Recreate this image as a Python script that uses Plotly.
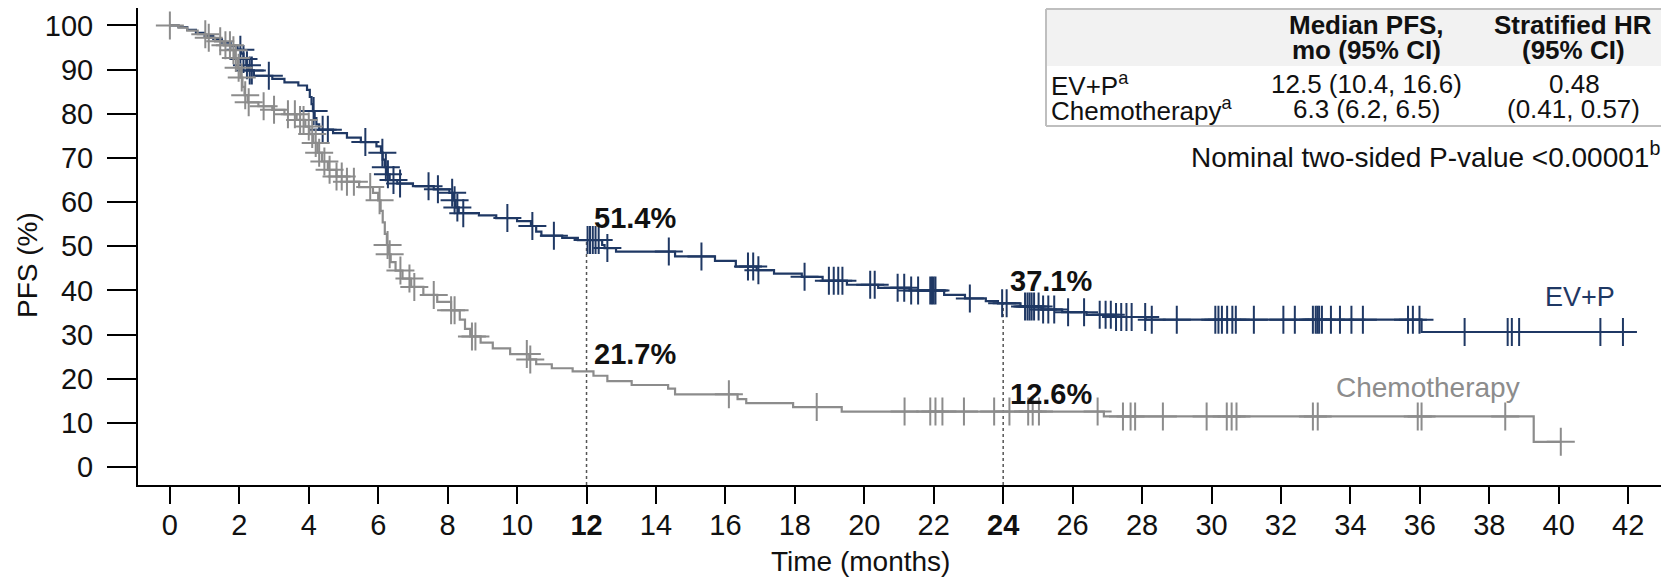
import numpy as np
import plotly.graph_objects as go

W, H = 1661, 582
ML, MR, MT, MB = 138, 0, 8, 97

NAVY = "#1F3864"
GRAY = "#8C8C8C"
FONT = "Arial, Liberation Sans, sans-serif"

# Kaplan-Meier steps: time of each drop (months) and PFS (%) after it
evp_event_t = [0.25, 0.5, 0.75, 1.0, 1.25, 1.5, 1.75, 1.95, 2.05, 2.12, 2.2, 2.28, 2.42,
               2.95, 3.3, 3.7, 3.95, 4.03, 4.08, 4.12, 4.17, 4.22, 4.3, 4.7, 5.1, 5.5,
               5.95, 6.08, 6.13, 6.19, 6.25, 6.33, 6.55, 7.0, 7.6, 8.05, 8.17, 8.23, 8.32,
               8.9, 9.4, 10.0, 10.4, 10.55, 10.7, 11.3, 11.75, 12.45, 12.52, 12.85, 14.55,
               15.7, 16.3, 16.9, 17.4, 18.2, 18.8, 19.5, 20.4, 21.3, 22.3, 22.9, 23.5,
               23.85, 24.5, 25.1, 25.7, 26.4, 27.2, 28.1, 36.05]
evp_surv = [99.6, 99.0, 98.3, 97.6, 96.9, 96.1, 95.3, 94.5, 93.6, 92.4, 91.0, 89.8, 88.6,
            87.9, 87.1, 86.4, 85.4, 83.8, 82.2, 80.6, 79.0, 77.6, 76.4, 75.6, 74.6, 73.6,
            72.6, 71.2, 69.6, 67.9, 66.3, 65.0, 64.2, 63.6, 62.9, 62.1, 60.4, 58.8, 57.5,
            57.0, 56.4, 55.7, 54.6, 53.3, 52.4, 51.9, 51.4, 50.3, 49.6, 48.8, 47.7,
            46.7, 45.4, 44.6, 43.8, 43.1, 42.2, 41.3, 40.6, 40.0, 39.0, 38.2, 37.6,
            37.1, 36.4, 35.7, 35.1, 34.5, 34.0, 33.4, 30.6]
evp_cens = [2.03, 2.12, 2.22, 2.3, 2.36, 2.85, 4.14, 4.4, 4.55, 5.63, 6.12, 6.22, 6.28,
            6.44, 6.63, 7.45, 7.72, 8.13, 8.2, 8.28, 8.45, 9.72, 10.44, 11.06, 12.03,
            12.1, 12.18, 12.26, 12.35, 12.6, 14.37, 15.31, 16.65, 16.8, 16.95, 18.28,
            18.98, 19.12, 19.25, 19.37, 20.17, 20.3, 20.96, 21.15, 21.35, 21.55, 21.9,
            21.95, 22.0, 22.05, 23.04, 23.97, 24.1, 24.63, 24.7, 24.76, 24.82, 24.89,
            25.02, 25.15, 25.3, 25.47, 25.87, 26.33, 26.78, 26.95, 27.1, 27.25, 27.4,
            27.55, 27.7, 28.09, 28.28, 29.0, 30.11, 30.2, 30.3, 30.45, 30.6, 30.7, 31.22,
            32.07, 32.4, 32.92, 33.0, 33.05, 33.1, 33.18, 33.44, 33.7, 34.03, 34.36,
            35.66, 35.8, 35.99, 37.29, 38.53, 38.65, 38.86, 41.2, 41.85]

chemo_event_t = [0.25, 0.5, 0.8, 1.05, 1.3, 1.55, 1.75, 1.88, 1.96, 2.03, 2.09, 2.15, 2.24,
                 2.55, 2.95, 3.3, 3.65, 3.9, 4.02, 4.13, 4.25, 4.38, 4.55, 4.8, 5.1, 5.45,
                 5.85, 6.0, 6.07, 6.13, 6.19, 6.25, 6.3, 6.36, 6.5, 6.7, 6.95, 7.3, 7.7,
                 8.1, 8.35, 8.5, 8.65, 8.95, 9.3, 9.8, 10.35, 10.55, 11.0, 11.6, 12.2,
                 12.6, 13.3, 14.35, 14.55, 16.35, 16.6, 17.95, 19.35, 26.9, 39.28]
chemo_surv = [99.5, 98.8, 98.0, 97.2, 96.4, 95.5, 94.4, 92.6, 90.4, 88.2, 86.1, 84.2, 82.6,
              81.7, 80.9, 79.9, 78.6, 77.1, 75.4, 73.4, 71.2, 69.2, 67.3, 65.8, 64.6, 63.4,
              62.1, 60.4, 58.0, 55.4, 52.8, 50.3, 48.2, 46.4, 44.5, 42.7, 40.8, 39.0, 37.4,
              35.5, 33.4, 31.3, 29.6, 28.2, 26.9, 25.6, 24.4, 23.3, 22.4, 21.7, 20.7,
              19.5, 18.6, 17.8, 16.5, 15.4, 14.5, 13.6, 12.6, 11.5, 5.75]
chemo_cens = [0.0, 1.02, 1.12, 1.45, 1.6, 1.73, 1.83, 1.9, 1.98, 2.07, 2.17, 2.27, 2.7, 3.0,
              3.4, 3.6, 3.75, 3.85, 4.0, 4.1, 4.2, 4.3, 4.45, 4.6, 4.8, 4.95, 5.1, 5.3,
              5.77, 6.04, 6.27, 6.33, 6.64, 6.9, 7.04, 7.6, 8.1, 8.2, 8.7, 8.8, 10.28,
              10.38, 16.1, 18.63, 21.16, 21.9, 22.05, 22.25, 22.87, 23.74, 24.18, 24.72,
              24.85, 25.03, 26.72, 27.45, 27.67, 27.8, 28.6, 29.86, 30.44, 30.58, 30.72,
              32.92, 33.06, 35.94, 36.05, 38.46, 40.06]

# Landmark estimates at 12 and 24 months
landmark_t = [12, 24]
landmark_evp = [51.4, 37.1]
landmark_chemo = [21.7, 12.6]

x_ticks = list(range(0, 43, 2))
x_ticktext = [f"<b>{v}</b>" if v in landmark_t else str(v) for v in x_ticks]
y_ticks = list(range(0, 101, 10))

X_RANGE = [-0.918, 42.946]
Y_RANGE = [-4.03, 103.94]

TICK_FONT = dict(family=FONT, size=29, color="#111111")


def km_path(t, s, cens):
    end = max(cens[-1], t[-1])
    return [0.0] + list(t) + [end], [100.0] + list(s) + [s[-1]]


def km_at(t, s, times):
    levels = np.concatenate([[100.0], np.asarray(s, float)])
    return levels[np.searchsorted(np.asarray(t, float), np.asarray(times, float), side="right")]


def px(xp):
    return (xp - ML) / (W - ML - MR)


def py(yp):
    return (H - MB - yp) / (H - MT - MB)


fig = go.Figure()

# dotted landmark drop lines
for t, v in zip(landmark_t, landmark_evp):
    fig.add_trace(go.Scatter(x=[t, t], y=[Y_RANGE[0], v], mode="lines",
                             line=dict(color="#555555", width=1.5, dash="dot"),
                             hoverinfo="skip", showlegend=False))

for name, t, s, c, col in [("EV+P", evp_event_t, evp_surv, evp_cens, NAVY),
                           ("Chemotherapy", chemo_event_t, chemo_surv, chemo_cens, GRAY)]:
    xs, ys = km_path(t, s, c)
    fig.add_trace(go.Scatter(x=xs, y=ys, mode="lines", line=dict(color=col, width=2.2, shape="hv"),
                             name=name, showlegend=False))
    fig.add_trace(go.Scatter(x=c, y=km_at(t, s, c), mode="markers",
                             marker=dict(symbol="cross-thin", size=20, line=dict(color=col, width=2)),
                             name=name + " censored", showlegend=False))

annotations = []
for t, v1, v2 in zip(landmark_t, landmark_evp, landmark_chemo):
    for v, off in [(v1, 5.0), (v2, 4.0)]:
        annotations.append(dict(x=t, y=v + off, xref="x", yref="y", text=f"<b>{v}%</b>",
                                showarrow=False, xanchor="left", yanchor="middle", xshift=5,
                                font=dict(family=FONT, size=29, color="#111111")))

annotations += [
    dict(x=40.6, y=38.5, xref="x", yref="y", text="EV+P", showarrow=False,
         xanchor="center", yanchor="middle", font=dict(family=FONT, size=27, color=NAVY)),
    dict(x=36.24, y=18.15, xref="x", yref="y", text="Chemotherapy", showarrow=False,
         xanchor="center", yanchor="middle", font=dict(family=FONT, size=28, color=GRAY)),
    dict(x=px(27), y=py(265), xref="paper", yref="paper", text="PFS (%)", textangle=-90,
         showarrow=False, xanchor="center", yanchor="middle",
         font=dict(family=FONT, size=28, color="#111111")),
    dict(x=px(860), y=py(561), xref="paper", yref="paper", text="Time (months)",
         showarrow=False, xanchor="center", yanchor="middle",
         font=dict(family=FONT, size=28, color="#111111")),
]

# summary table
cells = [
    ("<b>Median PFS,</b>", 1366, 25, "center", 26),
    ("<b>mo (95% CI)</b>", 1366, 50, "center", 26),
    ("<b>Stratified HR</b>", 1573, 25, "center", 26),
    ("<b>(95% CI)</b>", 1573, 50, "center", 26),
    ("EV+P<sup>a</sup>", 1049, 84, "left", 26),
    ("Chemotherapy<sup>a</sup>", 1049, 109, "left", 26),
    ("12.5 (10.4, 16.6)", 1366, 84, "center", 26),
    ("6.3 (6.2, 6.5)", 1366, 109, "center", 26),
    ("0.48", 1574, 84, "center", 26),
    ("(0.41, 0.57)", 1573, 109, "center", 26),
    ("Nominal two-sided P-value &lt;0.00001<sup>b</sup>", 1662, 155, "right", 28),
]
for txt, xp, yp, anc, fs in cells:
    annotations.append(dict(x=px(xp), y=py(yp), xref="paper", yref="paper", text=txt,
                            showarrow=False, xanchor=anc, yanchor="middle",
                            font=dict(family=FONT, size=fs, color="#111111")))

shapes = [
    dict(type="rect", xref="paper", yref="paper", x0=px(1046), x1=px(1665), y0=py(66), y1=py(9),
         fillcolor="#F2F2F2", line=dict(width=0), layer="below"),
    dict(type="line", xref="paper", yref="paper", x0=px(1046), x1=px(1665), y0=py(9), y1=py(9),
         line=dict(color="#BFBFBF", width=2)),
    dict(type="line", xref="paper", yref="paper", x0=px(1046), x1=px(1665), y0=py(126), y1=py(126),
         line=dict(color="#BFBFBF", width=2)),
    dict(type="line", xref="paper", yref="paper", x0=px(1046), x1=px(1046), y0=py(9), y1=py(126),
         line=dict(color="#BFBFBF", width=2)),
]

fig.update_layout(
    width=W, height=H,
    margin=dict(l=ML, r=MR, t=MT, b=MB, pad=0),
    paper_bgcolor="white", plot_bgcolor="white",
    showlegend=False,
    font=dict(family=FONT, size=26, color="#111111"),
    annotations=annotations, shapes=shapes,
    xaxis=dict(range=X_RANGE, tickvals=x_ticks, ticktext=x_ticktext, showgrid=False, zeroline=False,
               showline=True, linecolor="black", linewidth=2, ticks="outside", ticklen=17,
               tickwidth=2, tickcolor="black", tickfont=TICK_FONT, ticklabelstandoff=-4,
               automargin=False),
    yaxis=dict(range=Y_RANGE, tickvals=y_ticks, showgrid=False, zeroline=False,
               showline=True, linecolor="black", linewidth=2, ticks="outside", ticklen=29,
               tickwidth=2, tickcolor="black", tickfont=TICK_FONT, ticklabelstandoff=8,
               automargin=False),
)

fig.write_html("out.html")
